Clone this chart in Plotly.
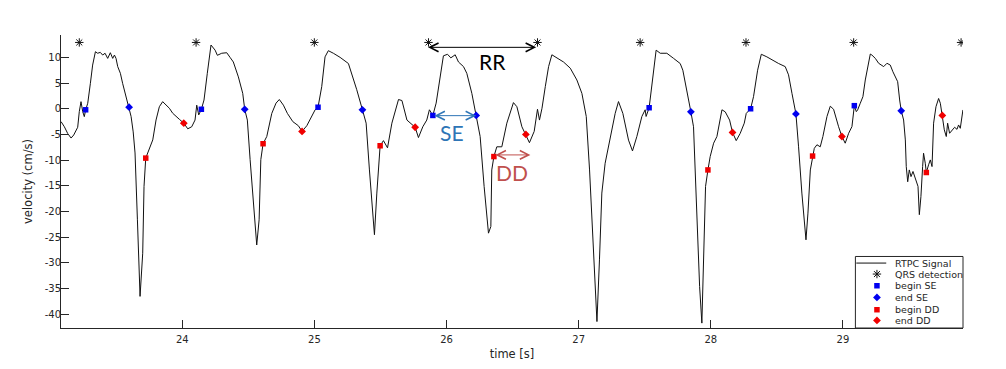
import plotly.graph_objects as go

# ---------------- data ----------------
time_s = [
    23.082, 23.107, 23.132, 23.158, 23.178, 23.195, 23.208, 23.22, 23.233, 23.246,
    23.258, 23.268, 23.284, 23.304, 23.321, 23.342, 23.359, 23.379, 23.397, 23.415,
    23.435, 23.455, 23.473, 23.486, 23.498, 23.511, 23.531, 23.548, 23.574, 23.597,
    23.612, 23.628, 23.642, 23.66, 23.68, 23.7, 23.71, 23.723, 23.743, 23.776,
    23.801, 23.826, 23.851, 23.877, 23.902, 23.927, 23.952, 23.977, 24.011,
    24.041, 24.071, 24.096, 24.109, 24.124, 24.144, 24.164, 24.189, 24.217, 24.248,
    24.265, 24.298, 24.336, 24.361, 24.386, 24.424, 24.457, 24.472, 24.492, 24.513,
    24.538, 24.563, 24.581, 24.594, 24.611, 24.639, 24.677, 24.709, 24.734, 24.765,
    24.795, 24.836, 24.878, 24.906, 24.942, 24.98, 25.005, 25.027, 25.055, 25.08,
    25.105, 25.143, 25.194, 25.257, 25.295, 25.32, 25.363, 25.391, 25.416, 25.442,
    25.454, 25.472, 25.497, 25.522, 25.553, 25.586, 25.636, 25.662, 25.7, 25.762,
    25.787, 25.82, 25.85, 25.87, 25.896, 25.921, 25.951, 25.976, 26.007, 26.032,
    26.065, 26.09, 26.128, 26.153, 26.191, 26.224, 26.254, 26.284, 26.317, 26.335,
    26.342, 26.358, 26.38, 26.418, 26.456, 26.506, 26.532, 26.57, 26.6, 26.627,
    26.663, 26.688, 26.703, 26.722, 26.747, 26.772, 26.797, 26.835, 26.885, 26.936,
    26.986, 27.024, 27.057, 27.082, 27.112, 27.138, 27.157, 27.175, 27.2, 27.238,
    27.276, 27.301, 27.334, 27.377, 27.407, 27.44, 27.478, 27.503, 27.51, 27.533,
    27.554, 27.586, 27.617, 27.667, 27.718, 27.768, 27.788, 27.819, 27.849, 27.869,
    27.894, 27.915, 27.932, 27.945, 27.96, 27.978, 27.995, 28.021, 28.046, 28.084,
    28.109, 28.142, 28.164, 28.192, 28.222, 28.253, 28.268, 28.301, 28.323, 28.354,
    28.382, 28.424, 28.475, 28.513, 28.563, 28.588, 28.614, 28.644, 28.664, 28.689,
    28.72, 28.735, 28.753, 28.77, 28.783, 28.803, 28.828, 28.848, 28.879, 28.904,
    28.929, 28.967, 28.992, 29.017, 29.043, 29.068, 29.086, 29.101, 29.111, 29.131,
    29.151, 29.169, 29.187, 29.207, 29.219, 29.245, 29.27, 29.295, 29.308, 29.333,
    29.358, 29.378, 29.396, 29.414, 29.429, 29.441, 29.459, 29.472, 29.479, 29.49,
    29.502, 29.515, 29.53, 29.54, 29.555, 29.568, 29.578, 29.59, 29.603, 29.61,
    29.623, 29.631, 29.648, 29.661, 29.674, 29.686, 29.704, 29.724, 29.737, 29.752,
    29.767, 29.782, 29.792, 29.807, 29.825, 29.845, 29.863, 29.875, 29.888, 29.908,
]
velocity = [
    -2.5, -3.5, -4.8, -5.7, -5.1, -4.1, -3.6, -0.56, 1.38, -0.56,
    -1.53, -0.23, 1.07, 4.95, 8.5, 11.1, 10.8, 10.97, 10.45, 10.8,
    9.8, 10.9, 9.8, 10.45, 9.8, 8.2, 6.9, 4.95, 2.35, 0.29,
    -1.5, -4.5, -8.6, -21.6, -36.5, -28.1, -15.1, -9.6, -8.3, -6.06,
    -2.18, 0.4, 1.38, 0.74, 0.1, -0.87, -1.53, -2.04, -2.8,
    -3.9, -3.5, -2.2, 0.7, -1.2, -0.1, 1.7, 6.9, 12.4, 11.4,
    10.4, 10.8, 10.9, 10.0, 9.1, 6.2, 3.0, -0.1, -2.2, -9.9,
    -19.0, -26.5, -21.6, -9.9, -6.8, -5.4, -0.9, 1.1, 1.8, 0.7,
    -0.9, -2.5, -3.3, -4.4, -3.3, -1.5, -0.2, 0.3, 4.3, 10.1,
    11.3, 10.8, 10.0, 8.8, 5.9, 3.7, -0.2, -2.8, -11.9, -21.6,
    -24.5, -16.4, -7.2, -6.2, -7.6, -2.8, 1.8, 1.6, -2.2, -3.6,
    -5.6, -3.5, -2.2, -0.2, -1.3, 1.1, 6.2, 10.3, 10.6, 9.9,
    10.5, 9.1, 8.2, 6.9, 3.0, -1.3, -5.4, -15.1, -24.2, -22.9,
    -11.9, -9.3, -7.4, -7.4, -2.8, 1.2, 0.4, -3.5, -5.0, -6.6,
    -4.4, -0.1, -2.2, 0.1, 4.3, 8.2, 10.5, 9.9, 9.1, 7.9,
    5.6, 3.0, -1.5, -11.9, -26.8, -41.4, -29.4, -16.4, -10.6, -5.4,
    -0.9, 1.4, -0.9, -6.1, -8.2, -5.4, -1.5, -0.2, -1.5, 0.2,
    4.3, 11.4, 10.8, 10.8, 9.8, 8.8, 7.5, 3.7, -0.6, -3.5,
    -20.3, -34.6, -41.7, -28.1, -15.1, -11.9, -9.3, -6.7, -5.4, -0.2,
    -0.6, -2.2, -4.6, -6.2, -4.8, -2.8, -0.9, 0.0, 2.35, 7.5,
    10.6, 10.1, 9.3, 8.8, 8.2, 6.6, 3.0, -1.0, -7.4, -16.4,
    -25.5, -20.3, -11.9, -9.2, -7.7, -7.0, -7.4, -5.4, -1.5, 0.5,
    -0.1, -3.5, -5.4, -6.7, -4.77, -3.47, 0.6, -0.56, -0.23, 1.07,
    2.35, 5.6, 8.2, 10.65, 10.45, 9.8, 8.85, 8.5, 8.2, 8.85,
    8.5, 7.2, 6.25, 5.27, 1.71, -0.37, -2.18, -6.06, -11.25, -14.2,
    -11.9, -13.2, -12.2, -12.9, -13.8, -15.1, -20.6, -17.1, -11.25, -8.65,
    -10.6, -12.4, -10.9, -9.95, -11.25, -2.8, 0.4, 2.0, 1.07, -1.34,
    -4.1, -5.4, -2.8, -4.77, -4.1, -3.6, -4.0, -3.15, -3.8, -0.23,
]

qrs_t = [23.22, 24.104, 24.999, 25.863, 26.688, 27.465, 28.266, 29.081, 29.894]
qrs_v = [12.9] * len(qrs_t)

begin_se_t = [23.268, 24.144, 25.027, 25.896, 27.533, 28.301, 29.086]
begin_se_v = [-0.2, -0.1, 0.3, -1.3, 0.2, 0.0, 0.6]
end_se_t = [23.597, 24.472, 25.363, 26.224, 27.849, 28.644, 29.441]
end_se_v = [0.3, -0.1, -0.2, -1.3, -0.6, -1.0, -0.4]
begin_dd_t = [23.723, 24.611, 25.497, 26.358, 27.978, 28.77, 29.631]
begin_dd_v = [-9.6, -6.8, -7.2, -9.3, -11.9, -9.2, -12.4]
end_dd_t = [24.011, 24.906, 25.762, 26.6, 28.164, 28.992, 29.752]
end_dd_v = [-2.8, -4.4, -3.6, -5.0, -4.6, -5.4, -1.3]

x_ticks = [24, 25, 26, 27, 28, 29]
x_ticklabels = ["24", "25", "26", "27", "28", "29"]
y_ticks = [-40, -35, -30, -25, -20, -15, -10, -5, 0, 5, 10]
y_ticklabels = ["-40", "-35", "-30", "-25", "-20", "-15", "-10", "-5", "0", "5", "10"]

legend_labels = ["RTPC Signal", "QRS detection", "begin SE", "end SE", "begin DD", "end DD"]

# interval annotations: (start t, end t, level)
rr_interval = (25.848, 26.678, 11.95)
se_interval = (25.896, 26.224, -1.34)
dd_interval = (26.358, 26.634, -8.98)

# ---------------- styling ----------------
AX = "#262626"
BLUE = "#0000F0"
RED = "#F00000"
SE_COL = "#2E75B6"
DD_COL = "#C0504D"
FONT = "DejaVu Sans"
STAR = dict(symbol="asterisk-open", size=7, color="#111111", line=dict(color="#111111", width=1))
SQ_B = dict(symbol="square", size=5.5, color=BLUE, line=dict(width=0))
DI_B = dict(symbol="diamond", size=6, color=BLUE, line=dict(width=0))
SQ_R = dict(symbol="square", size=5.5, color=RED, line=dict(width=0))
DI_R = dict(symbol="diamond", size=6, color=RED, line=dict(width=0))

fig = go.Figure()

fig.add_trace(go.Scatter(x=time_s, y=velocity, mode="lines",
                         line=dict(color="#111111", width=1), name=legend_labels[0]))
fig.add_trace(go.Scatter(x=qrs_t, y=qrs_v, mode="markers", name=legend_labels[1], marker=STAR))
fig.add_trace(go.Scatter(x=begin_se_t, y=begin_se_v, mode="markers", name=legend_labels[2], marker=SQ_B))
fig.add_trace(go.Scatter(x=end_se_t, y=end_se_v, mode="markers", name=legend_labels[3], marker=DI_B))
fig.add_trace(go.Scatter(x=begin_dd_t, y=begin_dd_v, mode="markers", name=legend_labels[4], marker=SQ_R))
fig.add_trace(go.Scatter(x=end_dd_t, y=end_dd_v, mode="markers", name=legend_labels[5], marker=DI_R))

# ---------------- custom compact legend (MATLAB style) ----------------
leg_rows = [0.2216, 0.1841, 0.1442, 0.1043, 0.0624, 0.0259]
leg_sym_x = 0.9046
leg_text_x = 0.9219
leg_styles = [None, STAR, SQ_B, DI_B, SQ_R, DI_R]
shapes = [
    dict(type="rect", xref="paper", yref="paper", x0=0.8807, x1=1.0, y0=0.0, y1=0.2441,
         line=dict(color=AX, width=1), fillcolor="white", layer="below"),
    dict(type="line", xref="paper", yref="paper", x0=0.8817, x1=0.9149,
         y0=leg_rows[0], y1=leg_rows[0], line=dict(color="#111111", width=1)),
]
annotations = []
for i, lab in enumerate(legend_labels):
    if leg_styles[i] is not None:
        fig.add_trace(go.Scatter(x=[leg_sym_x], y=[leg_rows[i]], mode="markers",
                                 xaxis="x2", yaxis="y2", showlegend=False,
                                 hoverinfo="skip", marker=leg_styles[i]))
    annotations.append(dict(x=leg_text_x, y=leg_rows[i], xref="paper", yref="paper",
                            text=lab, showarrow=False, xanchor="left", yanchor="middle",
                            font=dict(family=FONT, size=9.5, color=AX)))


def interval_arrow(iv, color):
    t0, t1, lvl = iv
    return dict(x=t1, y=lvl, ax=t0, ay=lvl, xref="x", yref="y", axref="x", ayref="y",
                text="", showarrow=True, arrowside="end+start",
                arrowhead=5, startarrowhead=5, arrowsize=1.7, startarrowsize=1.7,
                arrowwidth=1, arrowcolor=color, standoff=0, startstandoff=0)


annotations += [
    interval_arrow(rr_interval, "#000000"),
    interval_arrow(se_interval, SE_COL),
    interval_arrow(dd_interval, DD_COL),
    dict(x=26.344, y=9.15, xref="x", yref="y", text="RR", showarrow=False,
         font=dict(family="Lato", size=21, color="#000000")),
    dict(x=26.042, y=-4.55, xref="x", yref="y", text="SE", showarrow=False,
         font=dict(family="Lato", size=21, color=SE_COL)),
    dict(x=26.498, y=-12.44, xref="x", yref="y", text="DD", showarrow=False,
         font=dict(family="Lato", size=21, color=DD_COL)),
]

# the page body has an 8 px default margin, so the figure is 8 px smaller
fig.update_layout(
    template="none",
    width=998, height=361,
    margin=dict(l=53, r=43, t=27, b=41, pad=0),
    paper_bgcolor="white", plot_bgcolor="white",
    showlegend=False,
    font=dict(family=FONT, color=AX),
    xaxis=dict(range=[23.0816, 29.9085], tickmode="array", tickvals=x_ticks,
               ticktext=x_ticklabels, ticks="inside", ticklen=8, tickwidth=1,
               tickcolor=AX, showline=True, linecolor=AX, linewidth=1,
               showgrid=False, zeroline=False, automargin=False,
               ticklabelstandoff=2,
               tickfont=dict(family=FONT, size=10, color=AX),
               title=dict(text="time [s]", font=dict(family=FONT, size=11.5, color=AX),
                          standoff=5)),
    yaxis=dict(range=[-42.65, 14.35], tickmode="array", tickvals=y_ticks,
               ticktext=y_ticklabels, ticks="inside", ticklen=8, tickwidth=1,
               tickcolor=AX, showline=True, linecolor=AX, linewidth=1,
               showgrid=False, zeroline=False, automargin=False,
               ticklabelstandoff=-3,
               tickfont=dict(family=FONT, size=10, color=AX),
               title=dict(text="velocity (cm/s)", font=dict(family=FONT, size=11.5, color=AX),
                          standoff=9)),
    xaxis2=dict(overlaying="x", range=[0, 1], visible=False, fixedrange=True),
    yaxis2=dict(overlaying="y", range=[0, 1], visible=False, fixedrange=True),
    shapes=shapes,
    annotations=annotations,
)

fig.write_html("out.html")
